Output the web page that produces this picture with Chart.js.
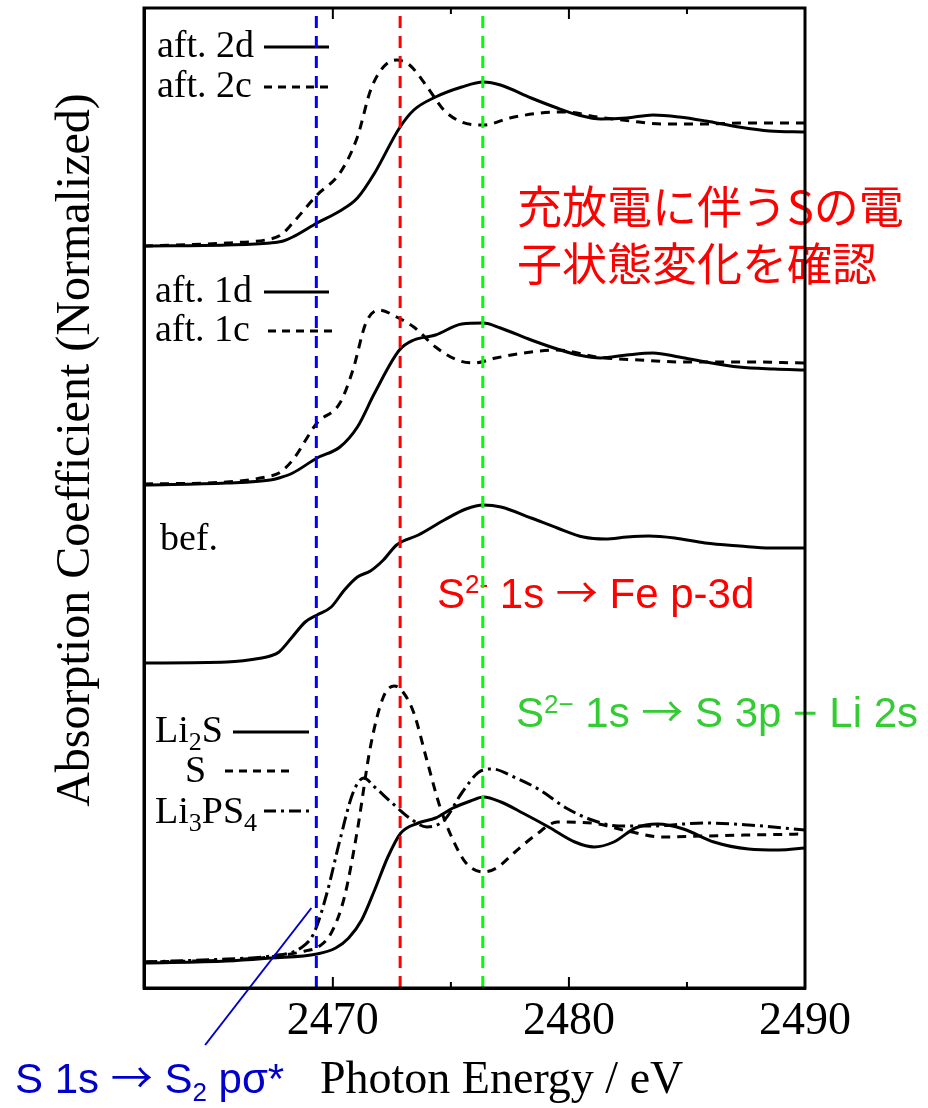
<!DOCTYPE html>
<html>
<head>
<meta charset="utf-8">
<script src="https://cdn.jsdelivr.net/npm/chart.js@4.4.1/dist/chart.umd.min.js"></script>
<style>
html,body{margin:0;padding:0;background:#fff;}
canvas{display:block;}
</style>
</head>
<body>
<canvas id="c" width="928" height="1108"></canvas>
<script>
// ---- data (photon energy in eV, normalized absorption with vertical offsets) ----
const aft2dE = [2462.0, 2465.5, 2467.35, 2467.9, 2468.3, 2469.33, 2470.3, 2471.04, 2471.77, 2472.82, 2473.43, 2474.35, 2475.46, 2476.38, 2477.1, 2478.4, 2479.5, 2480.4, 2481.35, 2482.45, 2483.56, 2484.67, 2485.8, 2487.2, 2488.5, 2490];
const aft2dY = [7.42, 7.43, 7.45, 7.47, 7.51, 7.65, 7.77, 7.90, 8.15, 8.60, 8.78, 8.91, 9.01, 9.06, 9.03, 8.90, 8.80, 8.73, 8.69, 8.70, 8.73, 8.71, 8.67, 8.61, 8.57, 8.56];

const aft2cE = [2462, 2465.5, 2467.35, 2467.8, 2468.3, 2469.33, 2470.3, 2471.04, 2471.6, 2472.14, 2472.7, 2473.25, 2474.0, 2474.7, 2475.46, 2476.38, 2477.5, 2478.8, 2479.9, 2481.2, 2482.6, 2483.9, 2485.8, 2487.6, 2490];
const aft2cY = [7.42, 7.45, 7.49, 7.53, 7.65, 7.93, 8.15, 8.51, 8.98, 9.21, 9.28, 9.23, 9.01, 8.78, 8.66, 8.63, 8.70, 8.75, 8.76, 8.71, 8.67, 8.64, 8.64, 8.65, 8.65];

const aft1dE = [2462, 2465.5, 2467.35, 2467.72, 2468.3, 2469.33, 2470.3, 2471.04, 2471.77, 2472.82, 2473.43, 2474.35, 2475.46, 2476.38, 2477.1, 2478.4, 2479.5, 2480.4, 2481.35, 2482.45, 2483.56, 2484.67, 2485.8, 2487.2, 2488.7, 2490];
const aft1dY = [5.03, 5.05, 5.08, 5.10, 5.15, 5.30, 5.41, 5.61, 5.95, 6.38, 6.48, 6.53, 6.64, 6.65, 6.60, 6.48, 6.39, 6.33, 6.30, 6.33, 6.35, 6.31, 6.26, 6.21, 6.19, 6.18];

const aft1cE = [2462, 2465.5, 2467.35, 2467.72, 2468.3, 2469.33, 2470.3, 2470.85, 2471.4, 2471.96, 2472.7, 2473.43, 2474.35, 2475.27, 2476.0, 2476.9, 2478.4, 2479.5, 2481.2, 2483.0, 2484.85, 2487.6, 2490];
const aft1cY = [5.04, 5.06, 5.12, 5.15, 5.28, 5.65, 5.85, 6.18, 6.65, 6.78, 6.71, 6.61, 6.41, 6.28, 6.25, 6.30, 6.36, 6.38, 6.31, 6.28, 6.26, 6.26, 6.25];

const befE = [2462.01, 2465.51, 2466.99, 2467.35, 2467.72, 2468.28, 2468.83, 2469.33, 2469.93, 2470.49, 2471.04, 2471.59, 2472.14, 2472.7, 2473.62, 2474.72, 2475.64, 2476.38, 2477.12, 2478.4, 2479.51, 2480.61, 2481.54, 2482.46, 2483.38, 2484.48, 2485.77, 2487.24, 2488.53, 2490];
const befY = [3.25, 3.26, 3.30, 3.32, 3.36, 3.51, 3.66, 3.73, 3.81, 3.98, 4.11, 4.17, 4.28, 4.43, 4.53, 4.68, 4.79, 4.83, 4.81, 4.70, 4.60, 4.51, 4.49, 4.51, 4.52, 4.50, 4.45, 4.42, 4.40, 4.40];

const li2sE = [2462.01, 2465.51, 2467.35, 2469.33, 2470.12, 2470.67, 2471.22, 2471.77, 2472.33, 2472.88, 2473.62, 2474.35, 2475.09, 2475.83, 2476.38, 2477.12, 2478.04, 2479.14, 2480.25, 2481.07, 2481.9, 2482.82, 2483.75, 2484.85, 2486.14, 2487.61, 2488.9, 2490];
const li2sY = [0.25, 0.27, 0.30, 0.34, 0.40, 0.50, 0.68, 0.98, 1.31, 1.55, 1.65, 1.70, 1.80, 1.87, 1.91, 1.86, 1.75, 1.61, 1.46, 1.41, 1.46, 1.60, 1.64, 1.59, 1.46, 1.39, 1.38, 1.40];

const sulfurE = [2462.01, 2465.51, 2467.35, 2468.83, 2469.38, 2469.93, 2470.49, 2471.04, 2471.59, 2472.14, 2472.6, 2472.97, 2473.43, 2473.98, 2474.54, 2475.09, 2475.64, 2476.38, 2476.93, 2477.67, 2478.59, 2479.51, 2480.98, 2482.46, 2483.93, 2485.77, 2487.61, 2490];
const sulfurY = [0.26, 0.28, 0.31, 0.37, 0.41, 0.55, 0.91, 1.58, 2.41, 2.91, 3.02, 2.96, 2.75, 2.28, 1.81, 1.48, 1.25, 1.16, 1.20, 1.35, 1.53, 1.66, 1.65, 1.57, 1.51, 1.52, 1.53, 1.54];

const li3psE = [2462.01, 2465.51, 2467.35, 2468.64, 2469.2, 2469.75, 2470.3, 2470.85, 2471.31, 2471.77, 2472.51, 2473.25, 2473.98, 2474.72, 2475.46, 2476.19, 2476.75, 2477.67, 2478.77, 2479.88, 2480.98, 2482.09, 2483.56, 2484.85, 2485.77, 2487.61, 2490];
const li3psY = [0.26, 0.29, 0.32, 0.40, 0.55, 0.95, 1.48, 1.95, 2.10, 2.01, 1.85, 1.70, 1.61, 1.68, 1.95, 2.16, 2.19, 2.11, 1.98, 1.80, 1.68, 1.62, 1.62, 1.64, 1.65, 1.63, 1.58];

// reference energies (vertical dashed lines)
const refEnergies = [2469.3, 2472.85, 2476.35];
const refColors = ['#0000ff', '#ff0000', '#00ff00'];

// annotation pointer line (S 1s -> S2 p sigma*)
const pointerE = [2469.09, 2464.59];
const pointerY = [0.80, -0.57];

// axis settings
const xMin = 2462, xMax = 2490, xStep = 5, xLabelEvery = 10;
const yMin = 0, yMax = 9.8;

// ---- build datasets ----
const pts = (E, Y) => E.map((e, i) => ({x: e, y: Y[i]}));
const curve = (E, Y, dash) => ({
  data: pts(E, Y), borderColor: '#000', borderWidth: 3, borderDash: dash,
  pointRadius: 0, fill: false, cubicInterpolationMode: 'monotone', order: 2
});
const datasets = [
  curve(aft2dE, aft2dY, []),
  curve(aft2cE, aft2cY, [9, 7]),
  curve(aft1dE, aft1dY, []),
  curve(aft1cE, aft1cY, [9, 7]),
  curve(befE, befY, []),
  curve(li2sE, li2sY, []),
  curve(sulfurE, sulfurY, [9, 7]),
  curve(li3psE, li3psY, [13, 5, 3, 5])
];
refEnergies.forEach((e, i) => datasets.push({
  data: [{x: e, y: yMin}, {x: e, y: yMax}], borderColor: refColors[i], borderWidth: 3,
  borderDash: [12, 8], pointRadius: 0, fill: false, order: 1
}));
datasets.push({
  data: pts(pointerE, pointerY), borderColor: '#0000cc', borderWidth: 2,
  pointRadius: 0, fill: false, clip: false, order: 0
});

// ---- text helpers ----
const SERIF = '"Liberation Serif", "Times New Roman", serif';
const SANS = '"Liberation Sans", Arial, sans-serif';
const ARROWF = '"Noto Sans CJK JP", "DejaVu Sans", sans-serif';

function runs(ctx, x, y, parts, family, color) {
  ctx.fillStyle = color;
  ctx.textAlign = 'left';
  ctx.textBaseline = 'alphabetic';
  let cx = x;
  parts.forEach(p => {
    ctx.font = p.s + 'px ' + (p.f || family);
    ctx.fillText(p.t, cx, y + (p.dy || 0));
    cx += ctx.measureText(p.t).width;
  });
}
function seg(ctx, x1, x2, y, dash) {
  ctx.save();
  ctx.strokeStyle = '#000'; ctx.lineWidth = 3; ctx.setLineDash(dash);
  ctx.beginPath(); ctx.moveTo(x1, y); ctx.lineTo(x2, y); ctx.stroke();
  ctx.restore();
}

const decor = {
  id: 'decor',
  beforeDatasetsDraw(chart) {
    const ctx = chart.ctx;
    ctx.save();
    // Japanese annotation
    ctx.fillStyle = '#ff0000';
    ctx.font = '45px "Noto Sans CJK JP"';
    ctx.textBaseline = 'middle';
    ctx.textAlign = 'left';
    ctx.fillText('充放電に伴うSの電', 517, 207);
    ctx.fillText('子状態変化を確認', 517, 264);
    // transition labels
    runs(ctx, 437, 608, [{t: 'S', s: 42}, {t: '2-', s: 26, dy: -15}, {t: ' 1s ', s: 42}, {t: '→', s: 42, f: ARROWF}, {t: ' Fe p-3d', s: 42}], SANS, '#ff0000');
    runs(ctx, 516, 727, [{t: 'S', s: 42}, {t: '2−', s: 26, dy: -14}, {t: ' 1s ', s: 42}, {t: '→', s: 42, f: ARROWF}, {t: ' S 3p − Li 2s', s: 42}], SANS, '#33cc33');
    runs(ctx, 15, 1093, [{t: 'S 1s ', s: 42}, {t: '→', s: 42, f: ARROWF}, {t: ' S', s: 42}, {t: '2', s: 26, dy: 8}, {t: ' pσ*', s: 42}], SANS, '#0000cc');
    // legend texts
    runs(ctx, 157, 57, [{t: 'aft. 2d', s: 38}], SERIF, '#000');
    runs(ctx, 157, 97, [{t: 'aft. 2c', s: 38}], SERIF, '#000');
    runs(ctx, 155, 302, [{t: 'aft. 1d', s: 38}], SERIF, '#000');
    runs(ctx, 155, 341, [{t: 'aft. 1c', s: 38}], SERIF, '#000');
    runs(ctx, 160, 550, [{t: 'bef.', s: 38}], SERIF, '#000');
    runs(ctx, 155, 742, [{t: 'Li', s: 38}, {t: '2', s: 26, dy: 8}, {t: 'S', s: 38}], SERIF, '#000');
    runs(ctx, 185, 782, [{t: 'S', s: 38}], SERIF, '#000');
    runs(ctx, 155, 823, [{t: 'Li', s: 38}, {t: '3', s: 26, dy: 8}, {t: 'PS', s: 38}, {t: '4', s: 26, dy: 8}], SERIF, '#000');
    // axis titles
    runs(ctx, 320, 1093, [{t: 'Photon Energy / eV', s: 46}], SERIF, '#000');
    ctx.translate(89, 450);
    ctx.rotate(-Math.PI / 2);
    ctx.font = '48px ' + SERIF;
    ctx.fillStyle = '#000';
    ctx.textAlign = 'center';
    ctx.textBaseline = 'alphabetic';
    ctx.fillText('Absorption Coefficient (Normalized)', 0, 0);
    ctx.restore();
    // legend samples
    seg(ctx, 264, 329, 47, []);
    seg(ctx, 264, 329, 87, [8, 6]);
    seg(ctx, 264, 329, 292, []);
    seg(ctx, 268, 333, 331, [8, 6]);
    seg(ctx, 233, 309, 732, []);
    seg(ctx, 225, 290, 771, [8, 6]);
    seg(ctx, 264, 314, 811, [12, 5, 3, 5]);
  },
  afterDatasetsDraw(chart) {
    const ctx = chart.ctx;
    const a = chart.chartArea;
    const xs = chart.scales.x;
    ctx.save();
    ctx.strokeStyle = '#000';
    ctx.lineWidth = 3;
    ctx.setLineDash([]);
    ctx.strokeRect(a.left, a.top, a.right - a.left, a.bottom - a.top);
    ctx.lineWidth = 2;
    xs.ticks.forEach(t => {
      if (t.value % xStep !== 0 || t.value <= xMin || t.value >= xMax) return;
      const px = xs.getPixelForValue(t.value);
      const len = (t.value % xLabelEvery === 0) ? 11 : 6;
      ctx.beginPath();
      ctx.moveTo(px, a.bottom); ctx.lineTo(px, a.bottom - len);
      ctx.moveTo(px, a.top); ctx.lineTo(px, a.top + len);
      ctx.stroke();
    });
    ctx.restore();
  }
};

new Chart(document.getElementById('c'), {
  type: 'line',
  data: {datasets},
  options: {
    responsive: false,
    animation: false,
    devicePixelRatio: 1,
    layout: {padding: {left: 0, right: 123, top: 8, bottom: 0}},
    plugins: {legend: {display: false}, tooltip: {enabled: false}},
    scales: {
      x: {
        type: 'linear', min: xMin, max: xMax,
        afterFit(s) { s.height = 120; },
        grid: {display: false, drawTicks: false},
        border: {display: true, color: '#000', width: 3},
        ticks: {
          stepSize: xStep, autoSkip: false, maxRotation: 0, padding: 6,
          color: '#000', font: {family: SERIF, size: 46},
          callback: v => (v % xLabelEvery === 0 ? String(v) : '')
        }
      },
      y: {
        type: 'linear', min: yMin, max: yMax,
        afterFit(s) { s.width = 144; },
        grid: {display: false, drawTicks: false},
        border: {display: true, color: '#000', width: 3},
        ticks: {display: false}
      }
    }
  },
  plugins: [decor]
});
</script>
</body>
</html>
